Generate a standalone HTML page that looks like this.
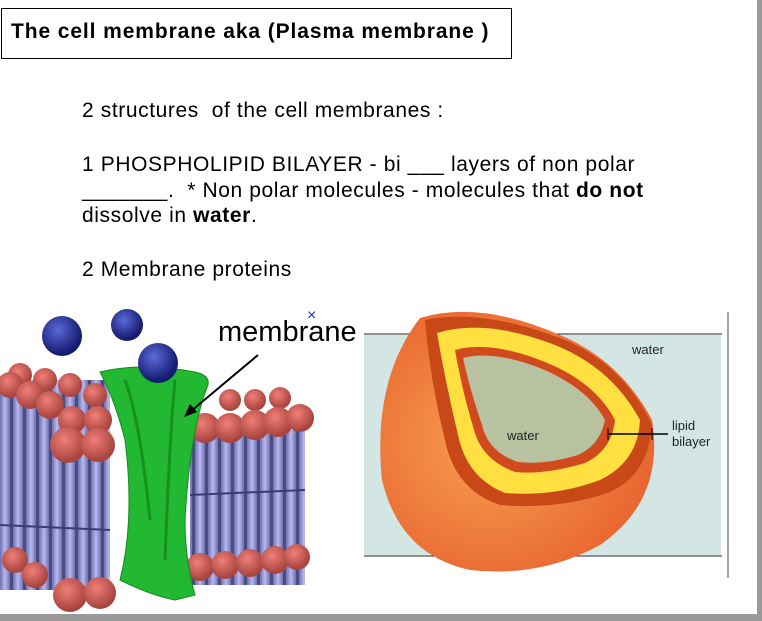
<!DOCTYPE html>
<html><head><style>
body{margin:0;width:762px;height:621px;background:#fff;overflow:hidden;position:relative;font-family:"Liberation Sans",sans-serif;}
.t{position:absolute;font-size:21px;color:#000;white-space:nowrap;letter-spacing:0.6px}
</style></head><body>
<div style="position:absolute;left:757px;top:0;width:5px;height:621px;background:#9a9a9a"></div>
<div style="position:absolute;left:0;top:614px;width:762px;height:7px;background:#9a9a9a"></div>
<div style="position:absolute;left:1px;top:8px;width:509px;height:49px;border:1px solid #000;"></div>
<div class="t" style="left:11px;top:20px;font-weight:bold;font-size:21px;letter-spacing:0.9px">The cell membrane aka (Plasma membrane )</div>
<div class="t" style="left:82px;top:99px">2 structures&nbsp; of the cell membranes :</div>
<div class="t" style="left:82px;top:153px">1 PHOSPHOLIPID BILAYER - bi ___ layers of non polar</div>
<div class="t" style="left:82px;top:179px">_______.&nbsp; * Non polar molecules - molecules that <b>do not</b></div>
<div class="t" style="left:82px;top:204px">dissolve in <b>water</b>.</div>
<div class="t" style="left:82px;top:258px">2 Membrane proteins</div>
<svg width="762" height="621" style="position:absolute;left:0;top:0">
<defs>
<radialGradient id="bl" cx="0.4" cy="0.35" r="0.6"><stop offset="0" stop-color="#5a6ad8"/><stop offset="1" stop-color="#141a6e"/></radialGradient>
<radialGradient id="rd" cx="0.4" cy="0.35" r="0.6"><stop offset="0" stop-color="#f07f78"/><stop offset="1" stop-color="#a8453f"/></radialGradient>
<linearGradient id="cy" x1="0" x2="1"><stop offset="0" stop-color="#6e70b0"/><stop offset="0.5" stop-color="#b8b9f0"/><stop offset="1" stop-color="#6e70b0"/></linearGradient>
<radialGradient id="or" cx="0.4" cy="0.5" r="0.6"><stop offset="0" stop-color="#f8a050"/><stop offset="1" stop-color="#e86530"/></radialGradient>
<pattern id="cyl" width="13" height="10" patternUnits="userSpaceOnUse"><rect width="10" height="10" fill="url(#cy)"/><rect x="10" width="3" height="10" fill="#4a4c80"/></pattern>
</defs>
<rect x="0" y="380" width="110" height="210" fill="url(#cyl)"/>
<rect x="190" y="430" width="115" height="155" fill="url(#cyl)"/>
<line x1="0" y1="525" x2="110" y2="530" stroke="#3a3c70" stroke-width="2"/>
<line x1="190" y1="495" x2="305" y2="490" stroke="#3a3c70" stroke-width="2"/>
<g fill="url(#rd)">
<circle cx="20" cy="375" r="12"/><circle cx="45" cy="380" r="12"/><circle cx="70" cy="385" r="12"/><circle cx="95" cy="395" r="12"/>
<circle cx="10" cy="385" r="13"/><circle cx="30" cy="395" r="14"/><circle cx="50" cy="405" r="14"/><circle cx="72" cy="420" r="14"/><circle cx="98" cy="420" r="14"/>
<circle cx="68" cy="445" r="18"/><circle cx="98" cy="445" r="17"/>
<circle cx="230" cy="400" r="11"/><circle cx="255" cy="400" r="11"/><circle cx="280" cy="398" r="11"/>
<circle cx="205" cy="428" r="15"/><circle cx="230" cy="428" r="15"/><circle cx="255" cy="425" r="15"/><circle cx="278" cy="422" r="15"/><circle cx="300" cy="418" r="14"/>
<circle cx="70" cy="595" r="17"/><circle cx="100" cy="593" r="16"/><circle cx="15" cy="560" r="13"/><circle cx="35" cy="575" r="13"/>
<circle cx="200" cy="567" r="14"/><circle cx="225" cy="565" r="14"/><circle cx="250" cy="563" r="14"/><circle cx="275" cy="560" r="14"/><circle cx="297" cy="557" r="13"/>
</g>
<path d="M100,372 Q140,362 195,372 Q210,375 208,385 Q190,430 185,520 Q185,560 195,595 L175,600 Q150,595 120,580 Q135,520 125,440 Q115,400 100,372 Z" fill="#22b832" stroke="#158a20"/>
<path d="M125,380 Q140,420 150,520 M175,380 Q170,430 165,560" stroke="#16901f" stroke-width="3" fill="none"/>
<circle cx="62" cy="336" r="20" fill="url(#bl)"/>
<circle cx="127" cy="325" r="16" fill="url(#bl)"/>
<circle cx="158" cy="363" r="20" fill="url(#bl)"/>
<text x="218" y="341" font-size="29" font-family="Liberation Sans">membrane</text>
<text x="307" y="320" font-size="16" fill="#2030d0">×</text>
<line x1="258" y1="355" x2="190" y2="412" stroke="#000" stroke-width="2"/>
<polygon points="184,417 190,404 197,412" fill="#000"/>
<line x1="364" y1="334" x2="722" y2="334" stroke="#222"/>
<rect x="364" y="335" width="357" height="220" fill="#d4e6e4"/>
<line x1="364" y1="556" x2="722" y2="556" stroke="#222"/>
<line x1="728" y1="312" x2="728" y2="578" stroke="#444"/>
<path d="M420,318 Q480,300 560,335 Q620,360 652,420 Q665,500 600,545 Q540,578 470,570 Q400,555 382,480 Q372,380 420,318 Z" fill="url(#or)"/>
<path d="M425,320 Q480,308 560,338 Q622,362 652,425 Q648,475 610,492 Q560,510 500,505 Q455,490 445,440 Q430,380 425,320 Z" fill="#c84818"/>
<path d="M437,333 Q485,318 555,345 Q612,368 640,420 Q638,462 600,480 Q555,497 505,493 Q467,478 458,435 Q446,385 437,333 Z" fill="#ffe040"/>
<path d="M455,350 Q490,340 545,362 Q595,382 615,420 Q612,450 585,463 Q545,475 515,472 Q482,460 474,430 Q462,390 455,350 Z" fill="#d04a1e"/>
<path d="M463,358 Q492,350 540,368 Q588,388 605,420 Q600,445 578,455 Q545,465 518,462 Q488,452 482,425 Q470,390 463,358 Z" fill="#b8c2a0"/>
<text x="507" y="440" font-size="13" fill="#222">water</text>
<text x="632" y="354" font-size="13" fill="#222">water</text>
<text x="672" y="430" font-size="13" fill="#222">lipid</text>
<text x="672" y="446" font-size="13" fill="#222">bilayer</text>
<line x1="608" y1="434" x2="668" y2="434" stroke="#000" stroke-width="1.5"/>
<line x1="608" y1="428" x2="608" y2="440" stroke="#000"/><line x1="652" y1="428" x2="652" y2="440" stroke="#000"/>
</svg>
</body></html>
